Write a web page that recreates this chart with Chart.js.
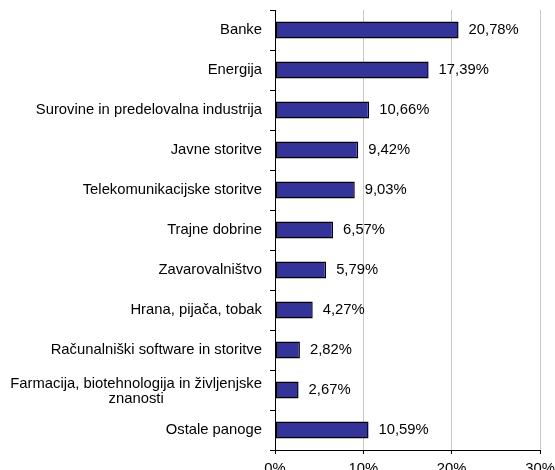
<!DOCTYPE html>
<html>
<head>
<meta charset="utf-8">
<script src="https://cdn.jsdelivr.net/npm/chart.js@4.4.1/dist/chart.umd.min.js"></script>
<style>
  html, body { margin: 0; padding: 0; background: #fff; }
  #wrap { width: 555px; height: 470px; }
</style>
</head>
<body>
<div id="wrap"><canvas id="barChart" width="555" height="470"></canvas></div>
<script>
// sectors, top to bottom
const sectors = [
  "Banke",
  "Energija",
  "Surovine in predelovalna industrija",
  "Javne storitve",
  "Telekomunikacijske storitve",
  "Trajne dobrine",
  "Zavarovalništvo",
  "Hrana, pijača, tobak",
  "Računalniški software in storitve",
  ["Farmacija, biotehnologija in življenjske", "znanosti"],
  "Ostale panoge"
];
// share in %
const shares = [20.78, 17.39, 10.66, 9.42, 9.03, 6.57, 5.79, 4.27, 2.82, 2.67, 10.59];
const xTicks = [0, 10, 20, 30];

const FONT = "'Liberation Sans', Arial, Helvetica, sans-serif";
const FSIZE = 14.8;
Chart.defaults.font.family = FONT;
Chart.defaults.font.size = FSIZE;
Chart.defaults.color = "#000";

const fmt = (v) => v.toFixed(2).replace(".", ",") + "%";

// value labels at the end of each bar + centered multi-line category label
const labelsPlugin = {
  id: "labelsPlugin",
  afterDatasetsDraw(chart) {
    const ctx = chart.ctx;
    const meta = chart.getDatasetMeta(0);
    ctx.save();
    ctx.font = FSIZE + "px " + FONT;
    ctx.fillStyle = "#000";
    ctx.textAlign = "left";
    ctx.textBaseline = "middle";
    meta.data.forEach((bar, i) => {
      ctx.fillText(fmt(shares[i]), bar.x + 10, bar.y);
    });

    // multi-line category names are centered under each other
    const yScale = chart.scales.y;
    const rightX = yScale.right - 13;
    ctx.textAlign = "center";
    sectors.forEach((s, i) => {
      if (!Array.isArray(s)) return;
      const w = Math.max(...s.map((l) => ctx.measureText(l).width));
      const cx = rightX - w / 2;
      const cy = yScale.getPixelForValue(i);
      const lh = 15;
      s.forEach((line, k) => {
        ctx.fillText(line, cx, cy - ((s.length - 1) * lh) / 2 + k * lh + 1);
      });
    });
    ctx.restore();
  }
};

new Chart(document.getElementById("barChart").getContext("2d"), {
  type: "bar",
  data: {
    labels: sectors,
    datasets: [
      {
        data: shares,
        backgroundColor: "#333399",
        borderColor: "#000",
        borderWidth: 1.5,
        borderSkipped: false,
        barPercentage: 0.43,
        categoryPercentage: 1
      }
    ]
  },
  options: {
    indexAxis: "y",
    responsive: false,
    animation: false,
    layout: { padding: { top: 10, right: 15, left: 0, bottom: 0 } },
    plugins: {
      legend: { display: false },
      tooltip: { enabled: false }
    },
    scales: {
      x: {
        min: 0,
        max: 30,
        afterBuildTicks: (scale) => {
          scale.ticks = xTicks.map((v) => ({ value: v }));
        },
        afterFit: (scale) => {
          scale.height = 20;
          scale.paddingLeft = 0;
          scale.paddingRight = 0;
        },
        ticks: {
          callback: (v) => v + "%",
          padding: 6,
          maxRotation: 0
        },
        grid: {
          color: (c) => (c.tick && c.tick.value === 0 ? "rgba(0,0,0,0)" : "#c8c8c8"),
          tickColor: "#000",
          tickLength: 4,
          lineWidth: 1
        },
        border: { color: "#000", width: 1 }
      },
      y: {
        afterFit: (scale) => {
          scale.width = 275;
          scale.paddingTop = 0;
          scale.paddingBottom = 0;
        },
        ticks: {
          padding: 8,
          color: (c) => (Array.isArray(sectors[c.index]) ? "rgba(0,0,0,0)" : "#000"),
          autoSkip: false
        },
        grid: {
          offset: true,
          drawOnChartArea: false,
          color: "#000",
          tickLength: 5
        },
        border: { color: "#000", width: 1 }
      }
    }
  },
  plugins: [labelsPlugin]
});
</script>
</body>
</html>
